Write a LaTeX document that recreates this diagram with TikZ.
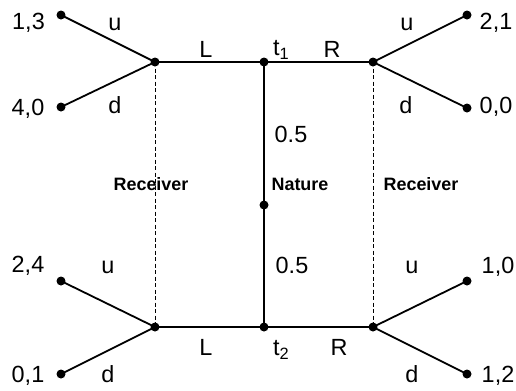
\documentclass[tikz,border=0pt]{standalone}
\usepackage{fontspec}
\setmainfont{Liberation Sans}
\begin{document}
\begin{tikzpicture}[x=1bp,y=-1bp,
  dot/.style={circle,fill=black,inner sep=0pt,minimum size=9bp},
  edge/.style={line width=1.8bp},
  info/.style={line width=0.9bp,dash pattern=on 4bp off 2.5bp},
  lbl/.style={anchor=base,inner sep=0pt,font=\fontsize{23.5}{26}\selectfont},
  pl/.style={anchor=base,inner sep=0pt,font=\fontsize{18}{20}\selectfont\bfseries}]
\useasboundingbox (0,0) rectangle (516,390);
% decision nodes
\node[dot] (lt) at (155,62) {};
\node[dot] (t1) at (264,62) {};
\node[dot] (rt) at (373,62) {};
\node[dot] (nat) at (264,205) {};
\node[dot] (lb) at (155,327) {};
\node[dot] (t2) at (264,327) {};
\node[dot] (rb) at (373,327) {};
% terminal nodes
\node[dot] (a1) at (61,15) {};
\node[dot] (a2) at (61,107) {};
\node[dot] (b1) at (467,15) {};
\node[dot] (b2) at (467,108) {};
\node[dot] (c1) at (61,281) {};
\node[dot] (c2) at (61,374) {};
\node[dot] (d1) at (467,281) {};
\node[dot] (d2) at (467,374) {};
% information sets
\draw[info] (lt.center) -- (lb.center);
\draw[info] (rt.center) -- (rb.center);
% edges
\draw[edge] (lt.center) -- (t1.center) -- (rt.center);
\draw[edge] (lb.center) -- (t2.center) -- (rb.center);
\draw[edge] (t1.center) -- (nat.center) -- (t2.center);
\draw[edge] (lt.center) -- (a1.center);
\draw[edge] (lt.center) -- (a2.center);
\draw[edge] (rt.center) -- (b1.center);
\draw[edge] (rt.center) -- (b2.center);
\draw[edge] (lb.center) -- (c1.center);
\draw[edge] (lb.center) -- (c2.center);
\draw[edge] (rb.center) -- (d1.center);
\draw[edge] (rb.center) -- (d2.center);
% payoffs
\node[lbl] (pa1) at (28.5,29.5) {1,3};
\node[lbl] (pa2) at (28,115.5) {4,0};
\node[lbl] (pb1) at (496,29.5) {2,1};
\node[lbl] (pb2) at (496,113.5) {0,0};
\node[lbl] (pc1) at (28,272.5) {2,4};
\node[lbl] (pc2) at (28,382.5) {0,1};
\node[lbl] (pd1) at (498,273.5) {1,0};
\node[lbl] (pd2) at (498,382.5) {1,2};
% action labels
\node[lbl] (ua) at (115,30.5) {u};
\node[lbl] (da) at (115,113.5) {d};
\node[lbl] (La) at (206,57) {L};
\node[lbl,anchor=base west] (tt1) at (273,55.5) {t\textsubscript{1}};
\node[lbl] (Ra) at (332,57) {R};
\node[lbl] (ub) at (407,30.5) {u};
\node[lbl] (db) at (406,113.5) {d};
\node[lbl] (p1) at (291,142.5) {0.5};
\node[lbl] (p2) at (292,273.5) {0.5};
\node[lbl] (uc) at (108,273.5) {u};
\node[lbl] (dc) at (108,382.5) {d};
\node[lbl] (Lc) at (206,355.5) {L};
\node[lbl,anchor=base west] (tt2) at (273,355.5) {t\textsubscript{2}};
\node[lbl] (Rc) at (339,355.5) {R};
\node[lbl] (ud) at (412,273.5) {u};
\node[lbl] (dd) at (412,382.5) {d};
% players
\node[pl] (rec1) at (151,190) {Receiver};
\node[pl] (natl) at (300,190) {Nature};
\node[pl] (rec2) at (421,190) {Receiver};
\end{tikzpicture}
\end{document}
